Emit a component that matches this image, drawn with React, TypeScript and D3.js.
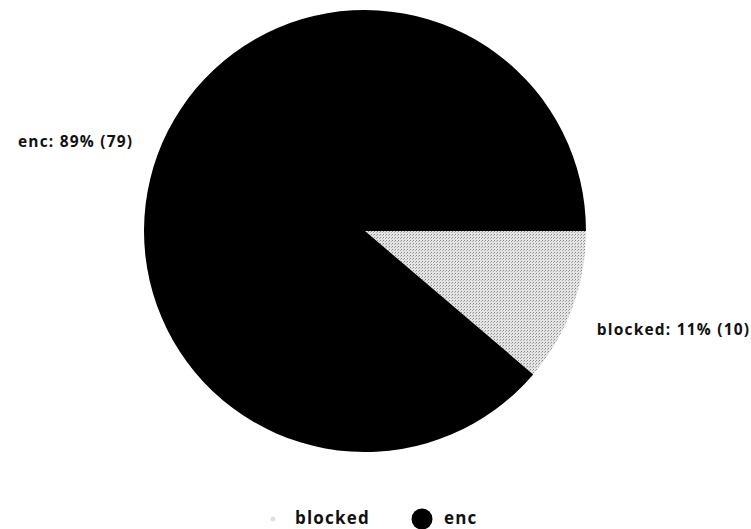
import { useEffect, useRef } from "react";
import * as d3 from "d3";

const categories = ["blocked", "enc"];
const counts = [10, 79];
const colors = ["url(#stipple)", "#000000"];

const W = 751;
const H = 529;

const App = () => {
  const svgRef = useRef<SVGSVGElement | null>(null);

  useEffect(() => {
    drawChart();
  }, []);

  const drawChart = () => {
    const svg = d3.select(svgRef.current);
    svg.selectAll("*").remove();

    const cx = 365;
    const cy = 231;
    const r = 221;
    const total = d3.sum(counts);

    // stippled grey fill for the small slice
    const defs = svg.append("defs");
    const pat = defs
      .append("pattern")
      .attr("id", "stipple")
      .attr("width", 3)
      .attr("height", 3)
      .attr("patternUnits", "userSpaceOnUse");
    pat.append("rect").attr("width", 3).attr("height", 3).attr("fill", "#e4e4e4");
    pat.append("rect").attr("width", 1).attr("height", 1).attr("fill", "#8a8a8a");
    pat.append("rect").attr("x", 2).attr("y", 1).attr("width", 1).attr("height", 1).attr("fill", "#b0b0b0");

    const data = categories.map((c, i) => ({ name: c, value: counts[i], color: colors[i] }));

    const pie = d3
      .pie<any>()
      .sort(null)
      .value((d: any) => d.value)
      .startAngle(Math.PI / 2)
      .endAngle(Math.PI / 2 + 2 * Math.PI);
    const arcs = pie(data);
    const arc = d3.arc<any>().innerRadius(0).outerRadius(r);
    const labelArc = d3.arc<any>().innerRadius(247).outerRadius(247);

    const g = svg.append("g").attr("transform", `translate(${cx}, ${cy})`);

    g.selectAll("path")
      .data(arcs)
      .join("path")
      .attr("d", arc)
      .attr("fill", (d: any) => d.data.color);

    // label corner nearest the pie sits on the label radius
    g.selectAll("text")
      .data(arcs)
      .join("text")
      .attr("x", (d: any) => labelArc.centroid(d)[0])
      .attr("y", (d: any) => {
        const y = labelArc.centroid(d)[1];
        return y > 0 ? y + 19 : y + 1;
      })
      .attr("text-anchor", (d: any) => (labelArc.centroid(d)[0] < 0 ? "end" : "start"))
      .attr("font-family", "'Open Sans', sans-serif")
      .attr("font-weight", 700)
      .attr("font-size", 15.5)
      .attr("letter-spacing", 1.2)
      .attr("fill", "#111")
      .text(
        (d: any) =>
          `${d.data.name}: ${Math.round((d.data.value / total) * 100)}% (${d.data.value})`
      );

    // legend
    const legendX = d3.scalePoint().domain(categories).range([273, 422]);
    const lg = svg
      .selectAll(".legend")
      .data(data)
      .join("g")
      .attr("class", "legend")
      .attr("transform", (d: any) => `translate(${legendX(d.name)}, 519)`);
    lg.append("circle")
      .attr("r", (d: any, i: number) => (i === 0 ? 2.5 : 10.5))
      .attr("fill", (d: any, i: number) => (i === 0 ? "#e0e0e0" : d.color));
    lg.append("text")
      .attr("x", 22)
      .attr("dominant-baseline", "middle")
      .attr("font-family", "'Open Sans', sans-serif")
      .attr("font-weight", 700)
      .attr("font-size", 17)
      .attr("letter-spacing", 1.2)
      .attr("fill", "#111")
      .text((d: any) => d.name);
  };

  return (
    <svg
      ref={svgRef}
      width={W}
      height={H}
      style={{ position: "absolute", left: 0, top: 0, background: "#fff" }}
    ></svg>
  );
};

export default App;
